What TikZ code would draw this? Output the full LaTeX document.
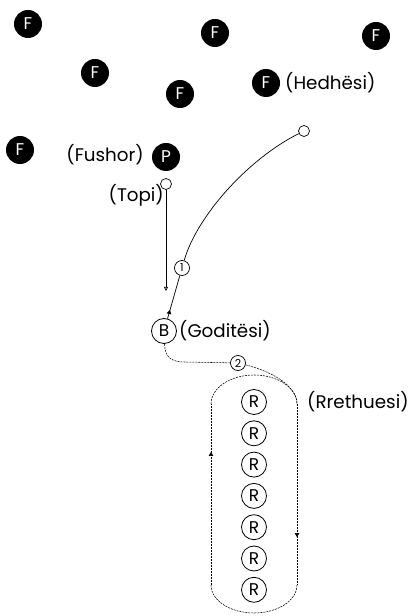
\documentclass[tikz,border=0pt]{standalone}
\usepackage{fontspec}
\setmainfont{Poppins}
\usetikzlibrary{arrows.meta,decorations.markings}
\begin{document}
\begin{tikzpicture}[x=1pt,y=1pt,
  player/.style={circle,fill=black,text=white,minimum size=28pt,inner sep=0pt,font=\fontsize{17}{17}\selectfont},
  ring/.style={circle,draw,line width=0.8pt,minimum size=25pt,inner sep=0pt,font=\fontsize{17}{17}\selectfont},
  num/.style={circle,draw,fill=white,line width=0.7pt,minimum size=15pt,inner sep=0pt,font=\fontsize{11}{11}\selectfont},
  ball/.style={circle,draw,line width=0.7pt,minimum size=11pt,inner sep=0pt},
  lbl/.style={inner sep=0pt,font=\fontsize{18.3}{18.3}\selectfont},
  conn/.style={line width=0.7pt},
  loopline/.style={line width=0.55pt,dash pattern=on 2pt off 1pt},
  midarrow/.style={postaction={decorate},decoration={markings,mark=at position #1 with {\arrow{Triangle[length=4pt,width=4.5pt]}}}}
]
\useasboundingbox (0,0) rectangle (411,616);
% fielders
\node[player] (f1) at (28,592) {F};
\node[player] (f2) at (215,583) {F};
\node[player] (f3) at (376,580) {F};
\node[player] (f4) at (95,543) {F};
\node[player] (f5) at (180,522) {F};
\node[player] (f6) at (266,533) {F};
\node[player] (f7) at (20,466) {F};
\node[player] (p) at (166,459) {P};
\node[lbl,anchor=east] (fushor) at (144,461) {(Fushor)};
\node[lbl,anchor=west] (hedhesi) at (285,533) {(Hedhësi)};
% balls
\node[ball] (topi) at (166,432) {};
\node[lbl,anchor=east] (topil) at (164,421) {(Topi)};
\node[ball] (hit) at (304,485) {};
\coordinate (drop) at (166,325);
\draw[conn,-{Triangle[open,length=4pt,width=4pt]}] (topi) -- (drop);
% batter
\node[ring] (b) at (164,285) {B};
\node[lbl,anchor=west] (goditesi) at (179,285) {(Goditësi)};
\node[num] (n1) at (182,348) {1};
\draw[conn,midarrow=0.2] (b) -- (n1);
\draw[conn] (n1) .. controls (197,400) and (248,457) .. (hit);
% runners
\foreach \i in {0,...,6} {
  \node[ring] (r\i) at (254,214-31.3*\i) {R};
}
\node[lbl,anchor=west] (rreth) at (307,214) {(Rrethuesi)};
% loop
\node[num] (n2) at (238,253) {2};
\coordinate (rt) at (297,212);
\coordinate (rb) at (297,31);
\coordinate (lb) at (211,31);
\coordinate (lt) at (211,212);
\draw[loopline] (b) .. controls (165,258) and (172,254) .. (185,254) -- (n2);
\draw[loopline] (n2) .. controls (270,245) and (297,231) .. (rt);
\draw[loopline,midarrow=0.735] (rt) -- (rb);
\draw[loopline] (rb) arc[start angle=0,end angle=-180,x radius=43,y radius=28];
\draw[loopline,midarrow=0.735] (lb) -- (lt);
\draw[loopline] (lt) arc[start angle=180,end angle=0,x radius=43,y radius=29];
\end{tikzpicture}
\end{document}
